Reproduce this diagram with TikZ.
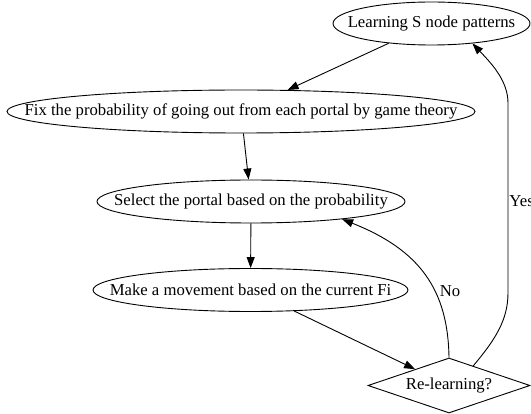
\documentclass[tikz,border=0pt]{standalone}
\usepackage{fontspec}
\setmainfont{Liberation Serif}
\usetikzlibrary{shapes.geometric,arrows.meta}

\begin{document}
\begin{tikzpicture}[x=1pt,y=-1pt,font=\fontsize{16.7}{19}\selectfont,>={Triangle[length=11pt,width=8pt]},line width=0.9pt,
 oval/.style={draw,ellipse,inner sep=0pt,minimum height=43pt,execute at begin node={\hbox to 0pt\bgroup\hss},execute at end node={\hss\egroup}},
 test/.style={draw,diamond,aspect=2.9,inner sep=0pt,minimum width=162pt,minimum height=55pt}]
\useasboundingbox (0,0) rectangle (531,414);
\node[oval,minimum width=197pt] (lrn) at (431.5,23.5) {Learning S node patterns};
\node[oval,minimum width=468pt] (fix) at (241,111.5) {Fix the probability of going out from each portal by game theory};
\node[oval,minimum width=308pt] (sel) at (251,201.5) {Select the portal based on the probability};
\node[oval,minimum width=315pt] (mov) at (250.5,290) {Make a movement based on the current Fi};
\node[test] (rel) at (449,385.5) {Re-learning?};
\foreach \a/\b in {lrn/fix,fix/sel,sel/mov,mov/rel}{\draw[->] (\a) -- (\b);}
% loop back / relearn
\draw[->] (rel.north) .. controls (448,290) and (420,250) .. (sel.-11.5);
\draw[->] (rel.39) .. controls (495,340) and (508,320) .. (508,293) -- (508,103) .. controls (508,80) and (490,62) .. (lrn.-26);
\node (no) at (450,291) {No};
\node[anchor=west,inner sep=0pt] (yes) at (509,201) {Yes};
\end{tikzpicture}
\end{document}
